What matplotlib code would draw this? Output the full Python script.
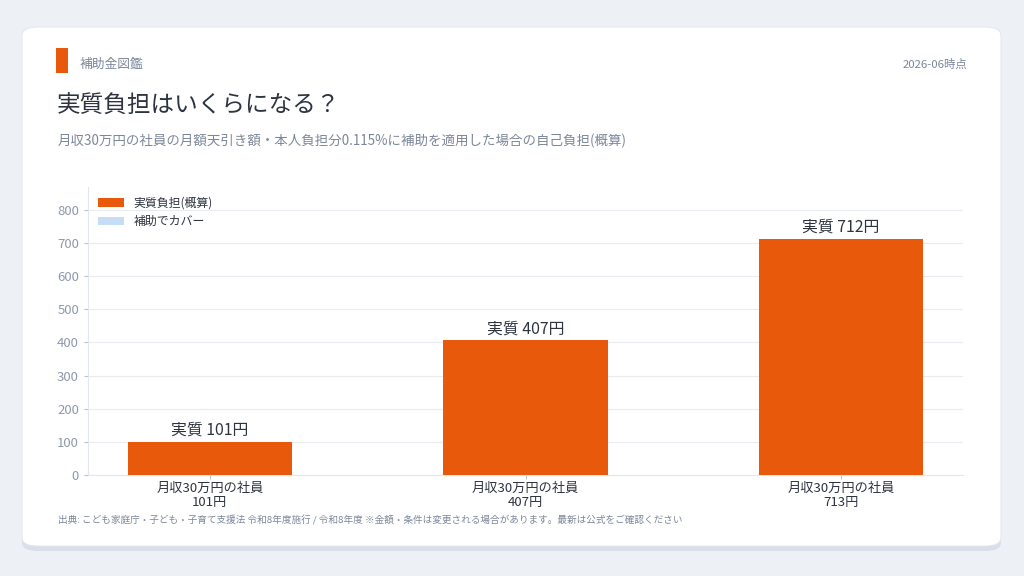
import matplotlib.pyplot as plt
from matplotlib.patches import FancyBboxPatch, Rectangle
import numpy as np

plt.rcParams['font.family'] = ['Noto Sans CJK JP', 'DejaVu Sans']

ORANGE = "#E8590C"
LIGHT_BLUE = "#C6DDF7"
BG = "#EDF1F6"
TEXT_DARK = "#2D3440"
TEXT_GRAY = "#7C879A"
GRID = "#E8ECF1"

categories = ["月収30万円の社員\n101円", "月収30万円の社員\n407円", "月収30万円の社員\n713円"]
burden = [101, 407, 712]
covered = [0, 0, 1]
bar_labels = ["実質 101円", "実質 407円", "実質 712円"]

fig = plt.figure(figsize=(10.24, 5.76), dpi=100)
fig.patch.set_facecolor(BG)

# card with shadow
shadow = FancyBboxPatch((22 / 1024, 1 - 551 / 576), 979 / 1024, 520 / 576,
                        boxstyle="round,pad=0,rounding_size=0.015",
                        transform=fig.transFigure, facecolor="#D8DFE8", edgecolor="none", zorder=0)
card = FancyBboxPatch((22 / 1024, 1 - 546 / 576), 979 / 1024, 519 / 576,
                      boxstyle="round,pad=0,rounding_size=0.015",
                      transform=fig.transFigure, facecolor="white", edgecolor="#E3E8EF",
                      linewidth=0.8, zorder=0)
fig.patches.extend([shadow, card])
fig.patches.append(Rectangle((56 / 1024, 1 - 73 / 576), 12 / 1024, 25 / 576,
                             transform=fig.transFigure, facecolor=ORANGE, edgecolor="none"))

fig.text(80 / 1024, 1 - 64 / 576, "補助金図鑑", fontsize=9.2, color=TEXT_GRAY, va="center")
fig.text(967 / 1024, 1 - 64 / 576, "2026-06時点", fontsize=8.2, color=TEXT_GRAY, va="center", ha="right")
fig.text(57 / 1024, 1 - 106 / 576, "実質負担はいくらになる？", fontsize=17, color=TEXT_DARK, va="center")
fig.text(58 / 1024, 1 - 141 / 576,
         "月収30万円の社員の月額天引き額・本人負担分0.115%に補助を適用した場合の自己負担(概算)",
         fontsize=9.7, color=TEXT_GRAY, va="center")
fig.text(58 / 1024, 1 - 520 / 576,
         "出典: こども家庭庁・子ども・子育て支援法 令和8年度施行 / 令和8年度 ※金額・条件は変更される場合があります。最新は公式をご確認ください",
         fontsize=6.93, color=TEXT_GRAY, va="center")

ax = fig.add_axes([88 / 1024, 1 - 475 / 576, 875 / 1024, 288 / 576])
ax.set_zorder(2)
ax.set_facecolor("white")
x = np.arange(len(categories))
ax.bar(x, burden, width=0.52, color=ORANGE, label="実質負担(概算)", zorder=3)
ax.bar(x, covered, width=0.52, bottom=burden, color=LIGHT_BLUE, label="補助でカバー", zorder=3)

for xi, b, c, lab in zip(x, burden, covered, bar_labels):
    ax.text(xi, b + c + 8, lab, ha="center", va="bottom", fontsize=11.4, color=TEXT_DARK)

ax.set_ylim(0, max(burden) * 1.22)
ax.set_yticks(np.arange(0, 801, 100))
ax.set_xticks(x)
ax.set_xticklabels(categories, fontsize=9.5, color=TEXT_DARK, linespacing=1.15)
ax.tick_params(axis="y", labelsize=9.5, labelcolor="#8E99AB", color="#B8C0CC", length=3)
ax.tick_params(axis="x", color="#B8C0CC", length=3, pad=2)
ax.grid(axis="y", color=GRID, linewidth=0.8, zorder=0)
for side in ("top", "right"):
    ax.spines[side].set_visible(False)
for side in ("left", "bottom"):
    ax.spines[side].set_color("#E2E7EE")

leg = ax.legend(loc="upper left", frameon=False, fontsize=8.6, handlelength=2.2, handleheight=0.7,
                handletextpad=0.8, borderaxespad=0.4, labelspacing=0.45)
for t in leg.get_texts():
    t.set_color(TEXT_DARK)

fig.savefig("out.png", dpi=100, facecolor=BG)
